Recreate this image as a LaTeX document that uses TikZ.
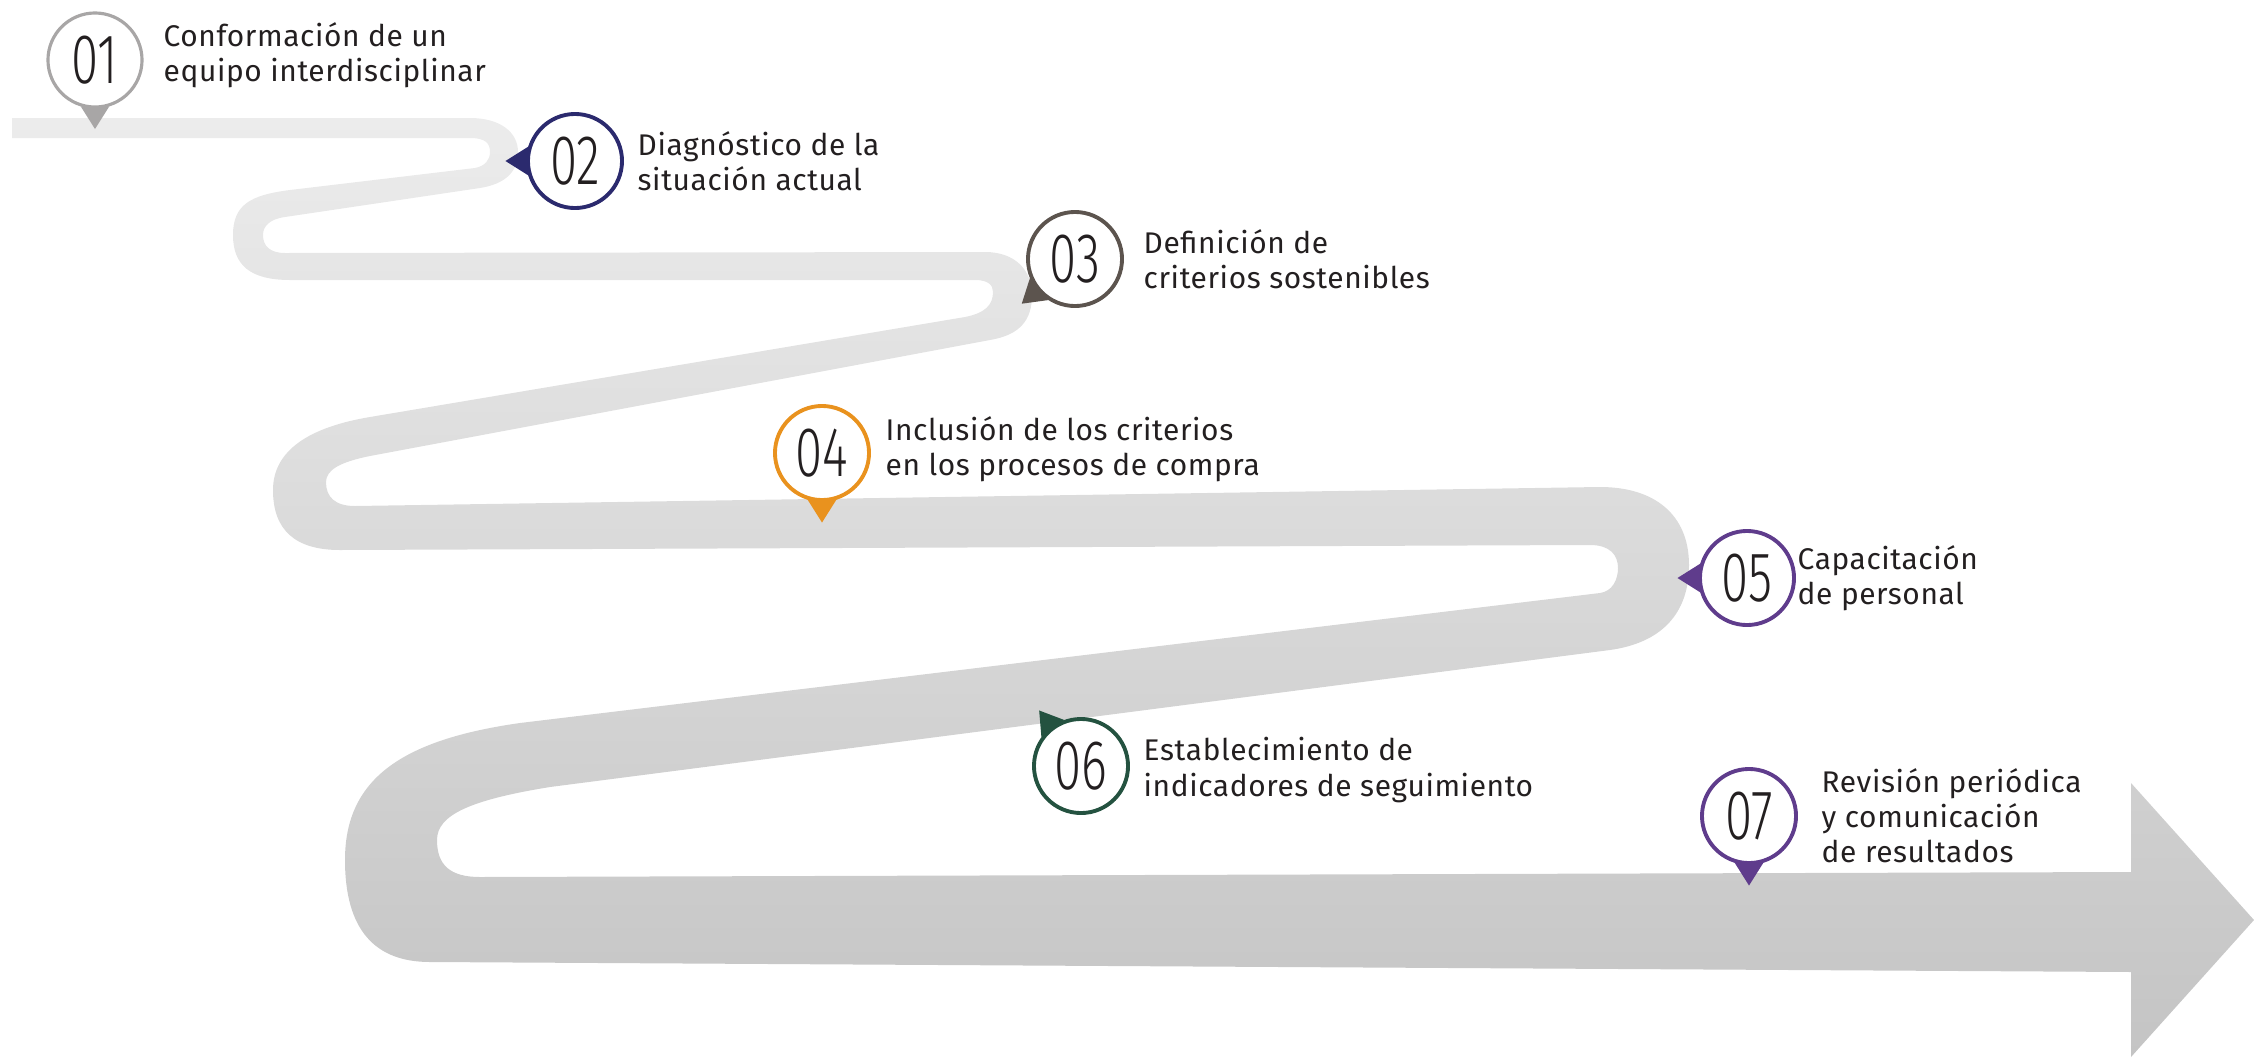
\documentclass[tikz,border=0pt]{standalone}
\usepackage{fontspec}
\setmainfont{Fira Sans}[LetterSpace=2]
\newfontfamily\numfont{Fira Sans Light}[FakeStretch=0.7]
\usetikzlibrary{calc}
\definecolor{roadtop}{RGB}{236,236,236}
\definecolor{roadbot}{RGB}{196,196,196}
\definecolor{cgrey}{RGB}{168,166,166}
\definecolor{cnavy}{RGB}{43,42,110}
\definecolor{cbrown}{RGB}{92,84,78}
\definecolor{corange}{RGB}{233,146,30}
\definecolor{cpurple}{RGB}{95,60,140}
\definecolor{cgreen}{RGB}{36,82,64}
\definecolor{ink}{RGB}{35,31,32}
\newcommand\mypointer[3]{%
  \pgfmathtruncatemacro\mypa{#2+17}\pgfmathtruncatemacro\mypb{#2-17}%
  \fill[#3] (#1.\mypa) -- ($(#1.center)!1.42!(#1.#2)$) -- (#1.\mypb) -- cycle;}
\begin{document}
\begin{tikzpicture}[x=0.01cm,y=-0.01cm,
  stepcirc/.style={circle, draw=#1, line width=1.1pt, fill=white,
    minimum size=0.94cm, inner sep=0pt,
    font=\numfont\fontsize{20}{22}\selectfont, text=ink},
  steptext/.style={anchor=west, align=left, inner sep=0pt,
    font=\fontsize{8.5}{10}\selectfont, text=ink}]
\useasboundingbox (0,0) rectangle (2254,1057);
% road
\path[top color=roadtop, bottom color=roadbot]
 (12,118) -- (470,118)
 .. controls (500,118) and (518,132) .. (518,152)
 .. controls (518,172) and (505,184) .. (480,188)
 -- (285,217)
 .. controls (270,219) and (263,226) .. (263,235)
 .. controls (263,246) and (270,253) .. (285,253)
 -- (985,252)
 .. controls (1015,252) and (1032,270) .. (1032,295)
 .. controls (1032,320) and (1020,335) .. (990,340)
 -- (370,456)
 .. controls (340,462) and (326,470) .. (326,482)
 .. controls (326,497) and (335,506) .. (355,506)
 -- (1600,487)
 .. controls (1655,487) and (1689,515) .. (1689,565)
 .. controls (1689,615) and (1660,643) .. (1610,650)
 -- (550,787)
 .. controls (470,800) and (437,815) .. (437,840)
 .. controls (437,865) and (450,877) .. (480,877)
 -- (2131,872) -- (2131,783) -- (2254,920) -- (2131,1057) -- (2131,972)
 -- (430,962)
 .. controls (375,962) and (345,930) .. (345,860)
 .. controls (345,780) and (400,740) .. (520,723)
 -- (1600,593)
 .. controls (1612,591.5) and (1618,580) .. (1618,568)
 .. controls (1618,555) and (1610,545) .. (1590,545)
 -- (340,550)
 .. controls (295,550) and (273,530) .. (273,490)
 .. controls (273,450) and (310,427) .. (370,417)
 -- (965,317)
 .. controls (985,313) and (993,305) .. (993,292)
 .. controls (993,285) and (988,280) .. (975,280)
 -- (290,280)
 .. controls (250,280) and (233,265) .. (233,235)
 .. controls (233,205) and (250,195) .. (290,190)
 -- (475,168)
 .. controls (485,166) and (490,160) .. (490,152)
 .. controls (490,143) and (485,138) .. (470,138)
 -- (12,138) -- cycle;
% markers
\node[stepcirc=cgrey, line width=0.9pt] (m1) at (95,60) {01};
\node[stepcirc=cnavy] (m2) at (575,161) {02};
\node[stepcirc=cbrown] (m3) at (1075,259) {03};
\node[stepcirc=corange] (m4) at (822,453) {04};
\node[stepcirc=cpurple] (m5) at (1747,578) {05};
\node[stepcirc=cgreen] (m6) at (1081,766) {06};
\node[stepcirc=cpurple] (m7) at (1749,816) {07};
\mypointer{m1}{-90}{cgrey}
\mypointer{m2}{180}{cnavy}
\mypointer{m3}{220}{cbrown}
\mypointer{m4}{-90}{corange}
\mypointer{m5}{180}{cpurple}
\mypointer{m6}{127}{cgreen}
\mypointer{m7}{-90}{cpurple}
% labels
\node[steptext] (t1) at (163,55) {Conformación de un\\equipo interdisciplinar};
\node[steptext] (t2) at (637,161) {Diagnóstico de la\\situación actual};
\node[steptext] (t3) at (1143,259) {Definición de\\criterios sostenibles};
\node[steptext] (t4) at (885,449) {Inclusión de los criterios\\en los procesos de compra};
\node[steptext] (t5) at (1797,578) {Capacitación\\de personal};
\node[steptext] (t6) at (1143,770) {Establecimiento de\\indicadores de seguimiento};
\node[steptext] (t7) at (1821,816) {Revisión periódica\\y comunicación\\de resultados};
\end{tikzpicture}
\end{document}
